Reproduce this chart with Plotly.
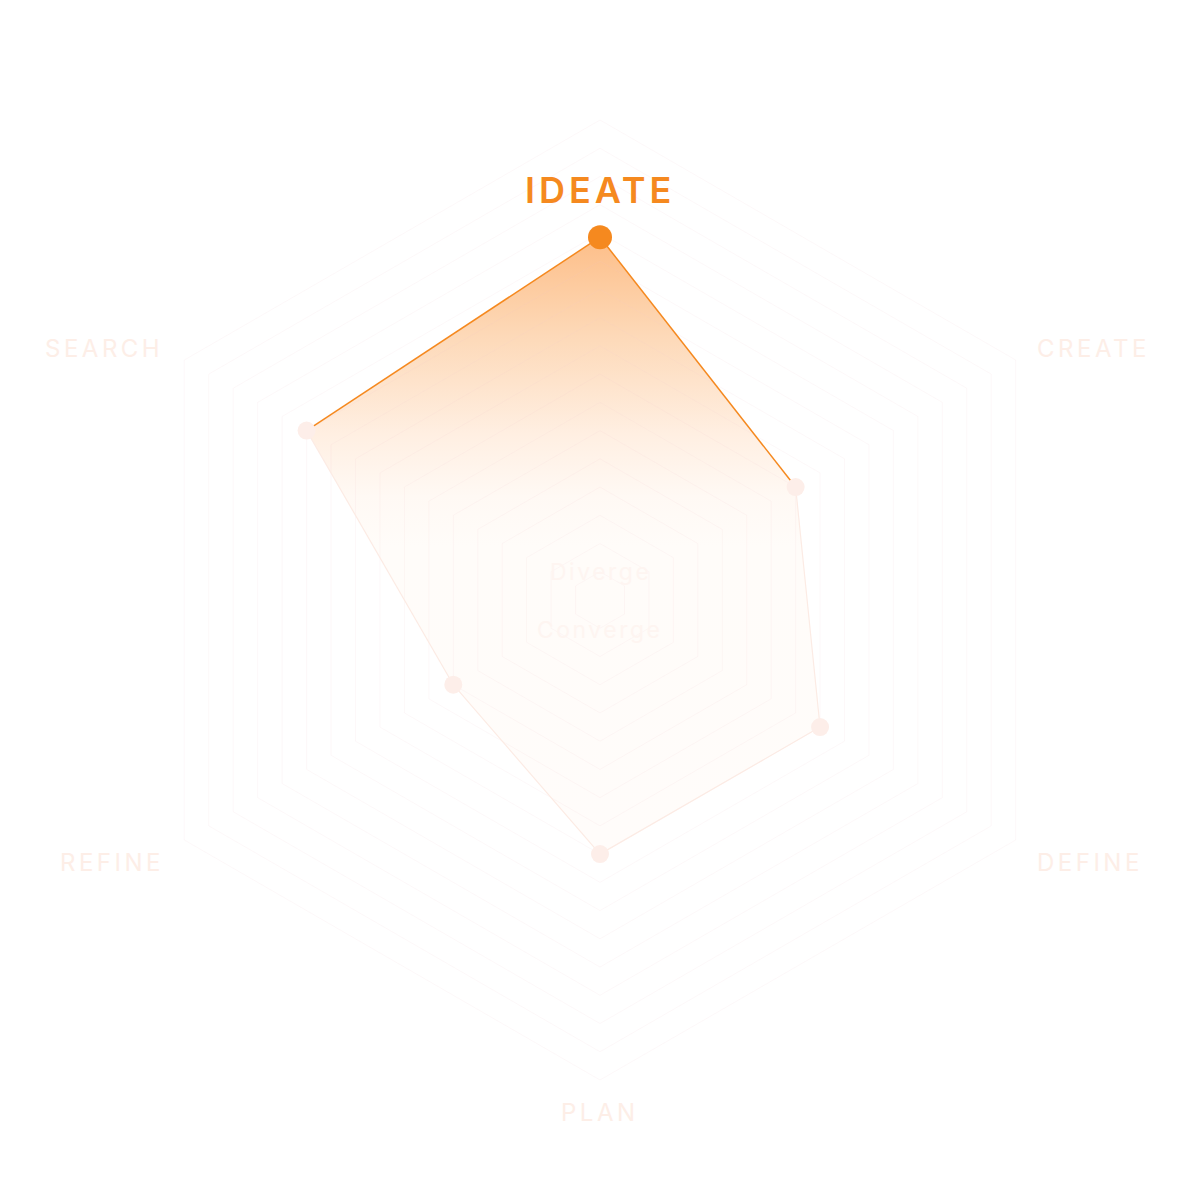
import math
import plotly.graph_objects as go

# ---- data ----
categories = ["IDEATE", "CREATE", "DEFINE", "PLAN", "REFINE", "SEARCH"]
values = [12.85, 8, 9, 9, 6, 12]
radial_max = 17
highlight = "IDEATE"
center_labels = ["Diverge", "Converge"]

ORANGE = "#F5891F"
FAINT = "#FDEEE7"
GRID = "rgba(235,200,205,0.12)"

W = 1184          # figure size (page body has an 8px margin)
OFF = 8
R_PX = 480
dom = R_PX * 2 / W
d0, d1 = 0.5 - dom / 2, 0.5 + dom / 2

fig = go.Figure()

# gradient fill of the polygon (cartesian layer placed under the polar grid)
angles = [math.radians(90 - 60 * i) for i in range(len(categories))]
xs = [v * math.cos(a) for v, a in zip(values, angles)]
ys = [v * math.sin(a) for v, a in zip(values, angles)]
xs.append(xs[0])
ys.append(ys[0])
ymin, ymax = min(ys), max(ys)
fig.add_trace(go.Scatter(
    x=xs, y=ys, mode="none", fill="toself",
    fillgradient=dict(
        type="vertical",
        start=ymin, stop=ymax,
        colorscale=[
            [0.0, "rgba(255,252,250,1)"],
            [0.50, "rgba(255,252,249,1)"],
            [0.58, "rgba(255,249,244,1)"],
            [0.68, "rgba(255,239,226,1)"],
            [0.84, "rgba(253,217,184,1)"],
            [1.0, "rgba(253,190,136,1)"],
        ],
    ),
    hoverinfo="skip", showlegend=False,
))

# polygon edges
n = len(categories)
for i in range(n):
    j = (i + 1) % n
    a, b = categories[i], categories[j]
    strong = highlight in (a, b)
    fig.add_trace(go.Scatterpolar(
        r=[values[i], values[j]], theta=[a, b], mode="lines",
        line=dict(color=ORANGE if strong else "#FCEBE4", width=1.5 if strong else 1.2),
        hoverinfo="skip", showlegend=False,
    ))

# markers
other_r = [v for c, v in zip(categories, values) if c != highlight]
other_t = [c for c in categories if c != highlight]
fig.add_trace(go.Scatterpolar(
    r=other_r, theta=other_t, mode="markers",
    marker=dict(size=18, color="#FDEEE9"), showlegend=False,
))
fig.add_trace(go.Scatterpolar(
    r=[values[categories.index(highlight)]], theta=[highlight], mode="markers",
    marker=dict(size=24, color=ORANGE), showlegend=False,
))

fig.update_layout(
    width=W, height=W,
    margin=dict(l=0, r=0, t=0, b=0),
    paper_bgcolor="white", plot_bgcolor="white",
    showlegend=False,
    xaxis=dict(domain=[d0, d1], range=[-radial_max, radial_max], visible=False, fixedrange=True),
    yaxis=dict(domain=[d0, d1], range=[-radial_max, radial_max], visible=False, fixedrange=True),
    polar=dict(
        domain=dict(x=[d0, d1], y=[d0, d1]),
        bgcolor="rgba(0,0,0,0)",
        gridshape="linear",
        radialaxis=dict(range=[0, radial_max], dtick=1, tick0=0, showticklabels=False,
                        ticks="", showline=False, gridcolor=GRID, gridwidth=1),
        angularaxis=dict(categoryorder="array", categoryarray=categories,
                         rotation=90, direction="clockwise", showticklabels=False,
                         ticks="", showgrid=False, showline=True, linecolor=GRID, linewidth=1),
    ),
)

FONT = "Inter, Noto Sans, sans-serif"

def spaced(text, px):
    return f'<span style="letter-spacing:{px}px">{text}</span>'

def paper(px, py):
    return (px - OFF) / W, 1 - (py - OFF) / W

label_pos = {
    "IDEATE": (600, 190),
    "CREATE": (1093, 348),
    "DEFINE": (1090, 862),
    "PLAN": (600, 1112),
    "REFINE": (112, 862),
    "SEARCH": (104, 348),
}
for c in categories:
    x, y = paper(*label_pos[c])
    if c == highlight:
        font = dict(family=FONT, size=36, color=ORANGE, weight=600)
        txt = spaced(c, 4)
    else:
        font = dict(family=FONT, size=24, color=FAINT, weight=400)
        txt = spaced(c, 3.5)
    fig.add_annotation(x=x, y=y, xref="paper", yref="paper",
                       text=txt, showarrow=False, font=font,
                       xanchor="center", yanchor="middle")

for txt, py in zip(center_labels, [572, 630]):
    x, y = paper(600, py)
    fig.add_annotation(x=x, y=y, xref="paper", yref="paper",
                       text=spaced(txt, 2.5), showarrow=False,
                       font=dict(family=FONT, size=23, color="#FEF5F1"),
                       xanchor="center", yanchor="middle")

fig.write_html("out.html")
